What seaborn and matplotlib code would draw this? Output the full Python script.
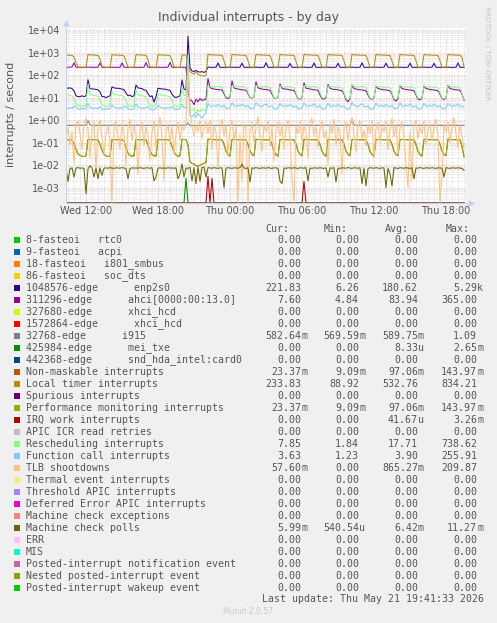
import numpy as np
import pandas as pd
import matplotlib
matplotlib.use("Agg")
import matplotlib.pyplot as plt
import matplotlib.dates as mdates
import matplotlib.ticker as mticker
from matplotlib.patches import Rectangle
import seaborn as sns

# ---- data (10 minute samples, Wed 10:20 -> Thu 19:30) ----
N = 200
times = pd.date_range("2026-05-20 10:20", periods=N, freq="10min")

enp2s0 = [27, 26, 27, 25, 20, 12, 11, 11, 12, 11,
          12, 62, 25, 24, 24, 23, 22, 18, 11, 11,
          10, 11, 12, 30, 27, 26, 26, 25, 24, 22,
          16, 12, 13, 11, 12, 36, 27, 26, 25, 22,
          21, 15, 11, 12, 6.26, 11, 26, 25, 24, 24,
          23, 22, 21, 14, 11, 10, 11, 12, 60, 24,
          22, 5290, 210, 150, 145, 160, 140, 135, 142, 130,
          150, 226, 222, 220, 224, 221, 345, 223, 220, 222,
          219, 221, 223, 225, 222, 220, 224, 221, 338, 223,
          220, 222, 219, 221, 223, 224, 221, 220, 223, 222,
          352, 222, 220, 222, 219, 221, 223, 225, 222, 220,
          224, 221, 330, 223, 220, 222, 219, 221, 223, 224,
          222, 220, 223, 221, 342, 222, 220, 222, 219, 221,
          223, 225, 221, 220, 224, 221, 335, 223, 220, 222,
          219, 221, 223, 224, 222, 220, 223, 221, 348, 222,
          220, 222, 219, 221, 223, 225, 222, 220, 224, 221,
          336, 223, 220, 222, 219, 221, 223, 224, 221, 220,
          223, 222, 340, 222, 220, 222, 219, 221, 223, 225,
          222, 220, 224, 221, 332, 223, 220, 222, 219, 221,
          223, 224, 221, 220, 223, 222, 345, 222, 220, 221.8]

ahci = [224, 222, 226, 230, 350, 225, 221, 223, 220, 222,
        224, 226, 222, 220, 223, 221, 225, 345, 223, 220,
        222, 219, 221, 224, 222, 220, 223, 221, 348, 224,
        220, 222, 219, 221, 225, 223, 220, 222, 221, 224,
        355, 222, 220, 223, 221, 219, 224, 222, 220, 223,
        221, 225, 365, 223, 220, 222, 219, 221, 224, 222,
        220, 18, 8, 7, 4.84, 8.5, 6.5, 9, 7.5, 8,
        8.5, 70, 28, 25, 24, 23, 23, 22, 22, 15,
        10, 9, 11, 55, 27, 25, 24, 23, 22, 22,
        21, 15, 10, 9.5, 11, 50, 27, 25, 24, 23,
        23, 22, 21, 14, 9.5, 9, 10.5, 40, 26, 24,
        24, 23, 22, 21, 21, 14, 9, 8.5, 10, 45,
        26, 25, 24, 23, 22, 22, 21, 13, 9, 8.5,
        10, 38, 26, 24, 23, 23, 22, 21, 20, 14,
        8, 6.5, 9, 36, 25, 24, 23, 22, 22, 21,
        20, 13, 9, 8.5, 10, 32, 25, 24, 23, 22,
        22, 21, 20, 14, 8, 7, 9, 34, 25, 24,
        23, 22, 22, 21, 20, 13, 8.5, 8, 9.5, 33,
        25, 24, 23, 22, 22, 21, 20, 14, 9, 8,
        9.5, 35, 25, 24, 23, 22, 22, 21, 14, 7.6]

i915 = [0.59, 0.585, 0.58, 0.59, 0.595, 0.585, 0.58, 0.59, 0.585, 0.59,
        0.6, 0.95, 0.62, 0.59, 0.585, 0.58, 0.59, 0.585, 0.58, 0.59,
        0.585, 0.59, 0.58, 0.6, 0.59, 0.585, 0.58, 0.59, 0.585, 0.58,
        0.59, 0.585, 0.58, 0.59, 0.585, 0.6, 0.59, 0.585, 0.58, 0.59,
        0.585, 0.58, 0.59, 0.585, 0.58, 0.59, 0.6, 0.59, 0.585, 0.58,
        0.59, 0.585, 0.58, 0.59, 0.585, 0.58, 0.59, 0.585, 0.6, 0.59,
        0.585, 0.75, 0.57, 0.575, 0.57, 0.58, 0.575, 0.57, 0.58, 0.575,
        0.58, 0.6, 0.59, 0.585, 0.58, 0.59, 0.585, 0.58, 0.59, 0.585,
        0.58, 0.59, 0.585, 0.6, 0.59, 0.585, 0.58, 0.59, 0.585, 0.58,
        0.59, 0.585, 0.58, 0.59, 0.585, 0.6, 0.59, 0.585, 0.58, 0.59,
        0.585, 0.58, 0.59, 0.585, 0.58, 0.59, 0.585, 0.6, 0.59, 0.585,
        0.58, 0.59, 0.585, 0.58, 0.59, 0.585, 0.58, 0.59, 0.585, 0.6,
        0.59, 0.585, 0.58, 0.59, 0.585, 0.58, 0.59, 0.585, 0.58, 0.59,
        0.585, 0.6, 0.59, 0.585, 0.58, 0.59, 0.585, 0.58, 0.59, 0.585,
        0.58, 0.59, 0.6, 1.09, 0.62, 0.59, 0.585, 0.58, 0.59, 0.585,
        0.58, 0.59, 0.585, 0.58, 0.59, 0.6, 0.59, 0.585, 0.58, 0.59,
        0.585, 0.58, 0.59, 0.585, 0.58, 0.59, 0.585, 0.6, 0.59, 0.585,
        0.58, 0.59, 0.585, 0.58, 0.59, 0.585, 0.58, 0.59, 0.585, 0.6,
        0.59, 0.585, 0.58, 0.59, 0.585, 0.58, 0.59, 0.585, 0.58, 0.59,
        0.585, 0.6, 0.59, 0.585, 0.58, 0.59, 0.585, 0.58, 0.59, 0.5826]

mei_txe = np.zeros(N)
mei_txe[60] = 2.65e-3

local_timer = [780, 770, 760, 745, 640, 350, 226, 220, 222, 218,
               221, 810, 795, 785, 772, 760, 742, 520, 240, 223,
               220, 218, 221, 795, 788, 776, 768, 760, 752, 700,
               420, 226, 220, 218, 221, 805, 792, 781, 770, 760,
               748, 480, 231, 220, 222, 219, 792, 786, 776, 770,
               761, 750, 722, 450, 228, 220, 221, 218, 782, 771,
               760, 300, 140, 121, 110, 146, 104, 99, 95, 88.92,
               98, 834.21, 800, 790, 780, 772, 765, 757, 748, 430,
               226, 221, 223, 825, 798, 788, 778, 770, 762, 755,
               745, 425, 225, 220, 222, 820, 796, 787, 779, 769,
               760, 752, 741, 420, 224, 221, 223, 818, 795, 786,
               777, 768, 759, 750, 742, 415, 226, 220, 222, 822,
               797, 788, 778, 770, 761, 752, 744, 430, 224, 220,
               222, 815, 793, 785, 776, 768, 759, 750, 742, 420,
               225, 221, 223, 820, 796, 787, 777, 769, 760, 751,
               743, 425, 224, 220, 222, 817, 795, 786, 776, 768,
               759, 750, 741, 420, 226, 221, 223, 821, 797, 788,
               778, 770, 761, 752, 744, 428, 224, 220, 222, 816,
               794, 786, 776, 768, 759, 750, 742, 422, 225, 221,
               223, 819, 796, 787, 777, 769, 760, 751, 600, 233.83]

perf = [0.135, 0.134, 0.135, 0.133, 0.09, 0.05, 0.032, 0.027, 0.025, 0.024,
        0.026, 0.137, 0.136, 0.135, 0.134, 0.135, 0.133, 0.085, 0.045, 0.03,
        0.026, 0.024, 0.025, 0.138, 0.136, 0.135, 0.134, 0.135, 0.134, 0.12,
        0.06, 0.034, 0.027, 0.025, 0.026, 0.139, 0.136, 0.135, 0.134, 0.135,
        0.133, 0.08, 0.042, 0.03, 0.026, 0.025, 0.138, 0.136, 0.135, 0.134,
        0.135, 0.134, 0.125, 0.07, 0.038, 0.028, 0.025, 0.026, 0.14, 0.137,
        0.136, 0.08, 0.014, 0.012, 0.011, 0.0095, 0.00909, 0.01, 0.011, 0.012,
        0.013, 0.14397, 0.138, 0.136, 0.135, 0.134, 0.135, 0.134, 0.133, 0.085,
        0.042, 0.029, 0.025, 0.14, 0.137, 0.136, 0.135, 0.134, 0.135, 0.134,
        0.133, 0.085, 0.043, 0.03, 0.026, 0.142, 0.137, 0.136, 0.135, 0.134,
        0.135, 0.134, 0.133, 0.082, 0.041, 0.029, 0.025, 0.14, 0.137, 0.136,
        0.135, 0.134, 0.135, 0.134, 0.133, 0.084, 0.042, 0.03, 0.026, 0.141,
        0.137, 0.136, 0.135, 0.134, 0.135, 0.134, 0.133, 0.083, 0.042, 0.029,
        0.025, 0.139, 0.137, 0.136, 0.135, 0.134, 0.135, 0.134, 0.133, 0.085,
        0.043, 0.03, 0.026, 0.14, 0.137, 0.136, 0.135, 0.134, 0.135, 0.134,
        0.133, 0.083, 0.041, 0.029, 0.025, 0.141, 0.137, 0.136, 0.135, 0.134,
        0.135, 0.134, 0.133, 0.084, 0.042, 0.03, 0.026, 0.14, 0.137, 0.136,
        0.135, 0.134, 0.135, 0.134, 0.133, 0.082, 0.041, 0.029, 0.025, 0.141,
        0.137, 0.136, 0.135, 0.134, 0.135, 0.134, 0.133, 0.085, 0.043, 0.03,
        0.026, 0.143, 0.137, 0.136, 0.135, 0.134, 0.135, 0.134, 0.07, 0.02337]
nmi = perf  # Non-maskable interrupts report the same numbers

irq_work = np.zeros(N)
irq_work[71] = 3.26e-3
irq_work[73] = 2.6e-3
irq_work[119] = 1.9e-3

resched = [13, 13.5, 12, 12, 9, 5, 4.5, 4.2, 4.0, 4.4,
           4.6, 40, 14, 13, 12.5, 12, 11.5, 8, 4.5, 4.2,
           4.0, 4.3, 4.8, 18, 14, 13.5, 13, 12.5, 12, 11,
           7, 4.6, 4.2, 4.0, 4.5, 22, 13.5, 13, 12, 11.5,
           11, 7, 4.4, 4.0, 4.3, 4.8, 15, 13.5, 13, 12.5,
           12, 11.5, 11, 7.5, 4.5, 4.1, 4.0, 4.6, 30, 13,
           12, 738.62, 3.0, 2.8, 3.2, 1.84, 2.9, 2.4, 3.1, 2.6,
           2.9, 35, 30, 31, 29, 30, 32, 29, 30, 18,
           11, 10, 12, 34, 30, 31, 29.5, 30, 31, 29,
           28, 17, 10.5, 9.5, 11, 36, 31, 30, 29, 30,
           31, 29, 28, 17, 10, 9, 10.5, 33, 30, 31,
           29, 30, 30, 28.5, 28, 16, 9.5, 9, 10, 35,
           31, 30, 29, 30, 31, 29, 28, 17, 10, 9.5,
           10.5, 32, 30, 31, 29, 30, 29, 28, 27, 16,
           9, 8, 9.5, 38, 31, 30, 29, 30, 31, 29,
           28, 16, 9.5, 9, 10, 33, 30, 31, 29, 30,
           29, 28, 27, 16, 9, 8.5, 10, 34, 31, 30,
           29, 30, 30, 28.5, 28, 15, 9.5, 9, 10, 32,
           30, 31, 29, 30, 29, 28, 27, 16, 9.5, 8.5,
           10, 35, 31, 30, 29, 30, 30, 29, 15, 7.85]

func_call = [3.4, 3.2, 3.6, 3.3, 4.2, 3.8, 3.1, 3.0, 3.3, 3.2,
             3.5, 5.5, 3.6, 3.4, 3.3, 3.5, 3.2, 4.0, 3.1, 2.9,
             3.2, 3.0, 3.4, 4.8, 3.7, 3.5, 3.3, 3.6, 3.4, 3.9,
             4.3, 3.2, 3.0, 2.9, 3.3, 5.2, 3.8, 3.5, 3.4, 3.3,
             3.6, 4.1, 3.1, 2.8, 3.0, 3.2, 4.6, 3.7, 3.4, 3.5,
             3.3, 3.6, 3.4, 4.0, 3.2, 2.9, 3.1, 3.3, 5.0, 3.6,
             3.4, 255.91, 1.6, 1.4, 1.8, 1.3, 2.0, 1.5, 1.23, 1.7,
             2.1, 5.4, 4.3, 4.0, 4.5, 4.1, 4.9, 4.2, 3.9, 4.6,
             3.4, 3.2, 3.6, 5.8, 4.4, 4.1, 4.6, 4.2, 5.1, 4.3,
             4.0, 4.5, 3.3, 3.1, 3.5, 6.1, 4.5, 4.2, 4.0, 4.7,
             5.2, 4.1, 3.9, 4.4, 3.2, 3.0, 3.4, 5.5, 4.3, 4.1,
             4.5, 4.0, 5.0, 4.2, 3.8, 4.3, 3.3, 3.1, 3.6, 5.9,
             4.4, 4.1, 4.6, 4.2, 5.3, 4.0, 3.7, 4.5, 3.2, 3.0,
             3.5, 5.6, 4.3, 4.0, 4.5, 4.1, 4.9, 4.2, 3.9, 4.4,
             3.3, 3.0, 3.4, 6.2, 4.5, 4.2, 4.0, 4.6, 5.4, 4.1,
             3.8, 4.3, 3.2, 3.0, 3.5, 5.7, 4.3, 4.1, 4.5, 4.0,
             5.0, 4.2, 3.9, 4.5, 3.3, 3.1, 3.6, 5.8, 4.4, 4.1,
             4.6, 4.2, 5.2, 4.0, 3.8, 4.4, 3.2, 3.0, 3.4, 5.5,
             4.3, 4.1, 4.5, 4.0, 5.1, 4.2, 3.9, 4.5, 3.3, 3.1,
             3.5, 5.6, 4.4, 4.1, 4.6, 4.2, 5.3, 4.0, 4.3, 3.63]

tlb = [0.15, 0.45, 0.08, 0.3, 0.012, 0.6, 0.9, 0.25, 0.05, 0.7,
       1.2, 0.4, 0.02, 0.35, 0.8, 0.006, 0.5, 1.0, 0.15, 0.03,
       0.25, 0.6, 0.09, 0.0, 0.4, 0.9, 0.2, 0.05, 0.7, 0.3,
       0.01, 0.45, 1.1, 0.12, 0.6, 0.25, 0.004, 0.35, 0.8, 0.07,
       0.5, 0.2, 0.015, 0.3, 0.9, 0.06, 0.4, 1.3, 0.18, 0.002,
       0.3, 0.7, 0.1, 0.5, 0.03, 0.25, 0.8, 0.12, 0.6, 0.35,
       0.9, 209.87, 3.0, 0.5, 0.2, 0.7, 0.3, 0.9, 0.15, 0.5,
       0.8, 0.25, 1.0, 0.05, 0.6, 0.3, 0.008, 0.4, 1.1, 0.2,
       0.6, 0.03, 0.35, 0.9, 0.12, 0.5, 0.0, 0.25, 0.002, 0.7,
       0.4, 0.0, 0.3, 0.8, 0.1, 0.45, 1.4, 0.2, 0.04, 0.6,
       0.3, 0.9, 0.07, 0.5, 0.015, 0.35, 0.8, 0.2, 0.6, 0.05,
       0.4, 1.0, 0.15, 0.003, 0.0, 0.5, 0.25, 0.9, 0.1, 0.6,
       0.3, 0.02, 0.7, 1.2, 0.2, 0.5, 0.06, 0.4, 0.9, 0.15,
       0.35, 0.01, 0.6, 0.25, 1.1, 0.08, 0.5, 0.3, 0.004, 0.45,
       0.8, 0.12, 0.6, 1.3, 0.2, 0.04, 0.5, 0.9, 0.15, 0.35,
       0.07, 0.6, 0.25, 1.0, 0.02, 0.4, 0.8, 0.1, 0.5, 0.3,
       0.9, 0.05, 0.4, 1.2, 0.18, 0.6, 0.03, 0.45, 0.8, 0.2,
       0.01, 0.001, 0.3, 0.002, 0.6, 1.0, 0.15, 0.5, 0.25, 0.9,
       0.08, 0.4, 0.7, 0.12, 0.5, 1.1, 0.2, 0.0, 0.003, 0.6,
       0.3, 0.8, 0.1, 0.5, 1.3, 0.25, 0.06, 0.6, 0.2, 0.0576]

mc_polls = [0.0072, 0.0019, 0.0070, 0.0076, 0.0030, 0.0074, 0.0078, 0.0073, 0.0075, 0.0071,
            0.00054, 0.0068, 0.0095, 0.0074, 0.0030, 0.0072, 0.0025, 0.0076, 0.0035, 0.0074,
            0.0075, 0.0073, 0.0077, 0.0074, 0.0072, 0.0076, 0.0075, 0.0073, 0.0078, 0.0074,
            0.0072, 0.0025, 0.0071, 0.0076, 0.0074, 0.0075, 0.0073, 0.0077, 0.0074, 0.0072,
            0.0076, 0.0075, 0.0073, 0.0078, 0.0020, 0.0030, 0.0074, 0.0076, 0.0073, 0.0075,
            0.0072, 0.0077, 0.0074, 0.0075, 0.0073, 0.0076, 0.0025, 0.0040, 0.0113, 0.0030,
            0.0074, 0.0072, 0.0080, 0.0020, 0.0078, 0.0015, 0.0082, 0.0019, 0.0079, 0.0081,
            0.0030, 0.0078, 0.0075, 0.0073, 0.0077, 0.0074, 0.0072, 0.0076, 0.0075, 0.0010,
            0.0073, 0.0077, 0.0074, 0.0072, 0.0076, 0.0075, 0.0073, 0.0078, 0.0110, 0.0074,
            0.0072, 0.0076, 0.0018, 0.0075, 0.0073, 0.0077, 0.0074, 0.0072, 0.0076, 0.0075,
            0.0073, 0.0078, 0.0074, 0.0072, 0.0076, 0.0075, 0.0073, 0.0020, 0.0015, 0.0074,
            0.0072, 0.0076, 0.0075, 0.0073, 0.0077, 0.0074, 0.0072, 0.0076, 0.0075, 0.0073,
            0.0078, 0.0020, 0.0074, 0.0072, 0.0076, 0.0075, 0.0073, 0.0077, 0.0074, 0.0072,
            0.0076, 0.0030, 0.0075, 0.0073, 0.0077, 0.0018, 0.0074, 0.0072, 0.0076, 0.0075,
            0.0073, 0.0078, 0.0074, 0.0072, 0.0076, 0.0075, 0.0073, 0.0077, 0.0015, 0.0074,
            0.0012, 0.0072, 0.0076, 0.0075, 0.0073, 0.0077, 0.0074, 0.0072, 0.0076, 0.0075,
            0.0010, 0.0073, 0.0040, 0.0012, 0.0078, 0.0074, 0.0072, 0.0076, 0.0075, 0.0073,
            0.0077, 0.0074, 0.0072, 0.0076, 0.0025, 0.0075, 0.0073, 0.0078, 0.0074, 0.0072,
            0.0076, 0.0075, 0.0073, 0.0077, 0.0074, 0.0072, 0.0076, 0.0075, 0.0073, 0.0030,
            0.0078, 0.0074, 0.0072, 0.0076, 0.0075, 0.0073, 0.0077, 0.0074, 0.0072, 0.00599]

zero = np.zeros(N)  # series that stayed at 0.00 all day

names = ["8-fasteoi   rtc0", "9-fasteoi   acpi", "18-fasteoi   i801_smbus",
         "86-fasteoi   soc_dts", "1048576-edge      enp2s0",
         "311296-edge      ahci[0000:00:13.0]", "327680-edge      xhci_hcd",
         "1572864-edge      xhci_hcd", "32768-edge      i915",
         "425984-edge      mei_txe", "442368-edge      snd_hda_intel:card0",
         "Non-maskable interrupts", "Local timer interrupts", "Spurious interrupts",
         "Performance monitoring interrupts", "IRQ work interrupts",
         "APIC ICR read retries", "Rescheduling interrupts",
         "Function call interrupts", "TLB shootdowns", "Thermal event interrupts",
         "Threshold APIC interrupts", "Deferred Error APIC interrupts",
         "Machine check exceptions", "Machine check polls", "ERR", "MIS",
         "Posted-interrupt notification event", "Nested posted-interrupt event",
         "Posted-interrupt wakeup event"]
series = [zero, zero, zero, zero, enp2s0, ahci, zero, zero, i915, mei_txe, zero,
          nmi, local_timer, zero, perf, irq_work, zero, resched, func_call, tlb,
          zero, zero, zero, zero, mc_polls, zero, zero, zero, zero, zero]
colors = ["#00CC00", "#0066B3", "#FF8000", "#FFCC00", "#330099", "#990099",
          "#CCFF00", "#FF0000", "#808080", "#008F00", "#00487D", "#B35A00",
          "#B38F00", "#6B006B", "#8FB300", "#B30000", "#BEBEBE", "#80FF80",
          "#80C9FF", "#FFC080", "#FFE680", "#AA80FF", "#EE00CC", "#FF8080",
          "#666600", "#FFBFFF", "#00FFCC", "#CC6699", "#999900", "#00CC00"]

cur = ["0.00", "0.00", "0.00", "0.00", "221.83", "7.60", "0.00", "0.00", "582.64m",
       "0.00", "0.00", "23.37m", "233.83", "0.00", "23.37m", "0.00", "0.00", "7.85",
       "3.63", "57.60m", "0.00", "0.00", "0.00", "0.00", "5.99m", "0.00", "0.00",
       "0.00", "0.00", "0.00"]
mins = ["0.00", "0.00", "0.00", "0.00", "6.26", "4.84", "0.00", "0.00", "569.59m",
        "0.00", "0.00", "9.09m", "88.92", "0.00", "9.09m", "0.00", "0.00", "1.84",
        "1.23", "0.00", "0.00", "0.00", "0.00", "0.00", "540.54u", "0.00", "0.00",
        "0.00", "0.00", "0.00"]
avgs = ["0.00", "0.00", "0.00", "0.00", "180.62", "83.94", "0.00", "0.00", "589.75m",
        "8.33u", "0.00", "97.06m", "532.76", "0.00", "97.06m", "41.67u", "0.00",
        "17.71", "3.90", "865.27m", "0.00", "0.00", "0.00", "0.00", "6.42m", "0.00",
        "0.00", "0.00", "0.00", "0.00"]
maxs = ["0.00", "0.00", "0.00", "0.00", "5.29k", "365.00", "0.00", "0.00", "1.09",
        "2.65m", "0.00", "143.97m", "834.21", "0.00", "143.97m", "3.26m", "0.00",
        "738.62", "255.91", "209.87", "0.00", "0.00", "0.00", "0.00", "11.27m",
        "0.00", "0.00", "0.00", "0.00", "0.00"]

# ---- layout ----
W, H = 497, 623
YMIN, YMAX = 10 ** -3.68, 10 ** 4.075
TXT = "#555555"
MONO = "DejaVu Sans Mono"

frames = []
for name, vals in zip(names, series):
    frames.append(pd.DataFrame({"time": times, "series": name,
                                "value": np.asarray(vals, dtype=float)}))
df = pd.concat(frames, ignore_index=True)
df["plotted"] = df["value"].clip(lower=YMIN)  # zeros sit on the bottom edge like rrdtool

fig = plt.figure(figsize=(W / 100, H / 100), dpi=100, facecolor="#f0f0f0")
ax = fig.add_axes([66 / W, 1 - 203 / H, 400 / W, 174.7 / H])
ax.set_facecolor("white")

sns.lineplot(data=df, x="time", y="plotted", hue="series", hue_order=names,
             palette=dict(zip(names, colors)), estimator=None, legend=False,
             linewidth=0.75, ax=ax)

ax.set_yscale("log")
ax.set_ylim(YMIN, YMAX)
ax.set_xlim(pd.Timestamp("2026-05-20 10:20"), pd.Timestamp("2026-05-21 19:40"))
ax.set_xlabel("")
ax.set_ylabel("")

ax.yaxis.set_major_locator(mticker.LogLocator(base=10, numticks=20))
ax.yaxis.set_minor_locator(mticker.LogLocator(base=10, subs=np.arange(2, 10), numticks=20))
ax.yaxis.set_major_formatter(mticker.FuncFormatter(lambda v, p: f"{v:.0e}"))
ax.yaxis.set_minor_formatter(mticker.NullFormatter())

ax.xaxis.set_major_locator(mdates.HourLocator(byhour=range(0, 24, 3)))
ax.xaxis.set_minor_locator(mdates.MinuteLocator(byminute=[0, 30]))


def time_label(v, p):
    d = mdates.num2date(v)
    return d.strftime("%a %H:%M") if d.hour % 6 == 0 else ""


ax.xaxis.set_major_formatter(mticker.FuncFormatter(time_label))

ax.set_axisbelow(True)
ax.grid(which="minor", color="#d4d4d4", linestyle=(0, (1, 1)), linewidth=0.5)
ax.grid(which="major", color="#e8a0a0", linestyle=(0, (1, 2)), linewidth=0.6)
ax.tick_params(which="both", length=0)
ax.tick_params(axis="y", labelsize=7, labelcolor=TXT, pad=4.3)
ax.tick_params(axis="x", labelsize=7, labelcolor=TXT, pad=2.5)

for s in ["top", "right"]:
    ax.spines[s].set_visible(False)
for s in ["left", "bottom"]:
    ax.spines[s].set_color("#c8d0f0")
    ax.spines[s].set_linewidth(0.8)
ax.plot([0], [1.03], marker="^", markersize=3.5, color="#c8d0f0",
        transform=ax.transAxes, clip_on=False)
ax.plot([1.012], [0], marker=">", markersize=3.5, color="#c8d0f0",
        transform=ax.transAxes, clip_on=False)

# ---- texts around the plot ----
fig.text(248 / W, 1 - 18 / H, "Individual interrupts - by day", ha="center",
         va="center", fontsize=9, color=TXT)
fig.text(11 / W, 1 - 114 / H, "interrupts / second", rotation=90, ha="center",
         va="center", fontsize=8, color=TXT)
fig.text(487 / W, 1 - 53 / H, "RRDTOOL / TOBI OETIKER", rotation=270, ha="center",
         va="center", fontsize=5.3, color="#c4c4c4")

# ---- legend table ----
FS = 7.15
for label, xe in zip(["Cur:", "Min:", "Avg:", "Max:"], [289, 348, 409, 470]):
    fig.text(xe / W, 1 - 229 / H, label, ha="right", va="center",
             family=MONO, fontsize=FS, color=TXT)


def put_value(s, xe, y):
    num, suf = (s[:-1], s[-1]) if s[-1].isalpha() else (s, "")
    fig.text(xe / W, 1 - y / H, num, ha="right", va="center", family=MONO,
             fontsize=FS, color=TXT)
    if suf:
        fig.text(xe / W, 1 - y / H, suf, ha="left", va="center", family=MONO,
                 fontsize=FS, color=TXT)


for k, name in enumerate(names):
    y = 240 + 12 * k
    fig.add_artist(Rectangle((14 / W, 1 - (y + 3) / H), 6 / W, 6 / H,
                             transform=fig.transFigure, facecolor=colors[k],
                             edgecolor="none"))
    fig.text(26 / W, 1 - y / H, name, ha="left", va="center", family=MONO,
             fontsize=FS, color=TXT)
    put_value(cur[k], 301, y)
    put_value(mins[k], 359, y)
    put_value(avgs[k], 418, y)
    put_value(maxs[k], 477, y)

fig.text(262 / W, 1 - 599 / H, "Last update: Thu May 21 19:41:33 2026", ha="left",
         va="center", family=MONO, fontsize=FS, color=TXT)
fig.text(248 / W, 1 - 612 / H, "Munin 2.0.57", ha="center", va="center",
         fontsize=5.5, color="#c8c8c8")

fig.savefig("out.png", dpi=100, facecolor=fig.get_facecolor())
